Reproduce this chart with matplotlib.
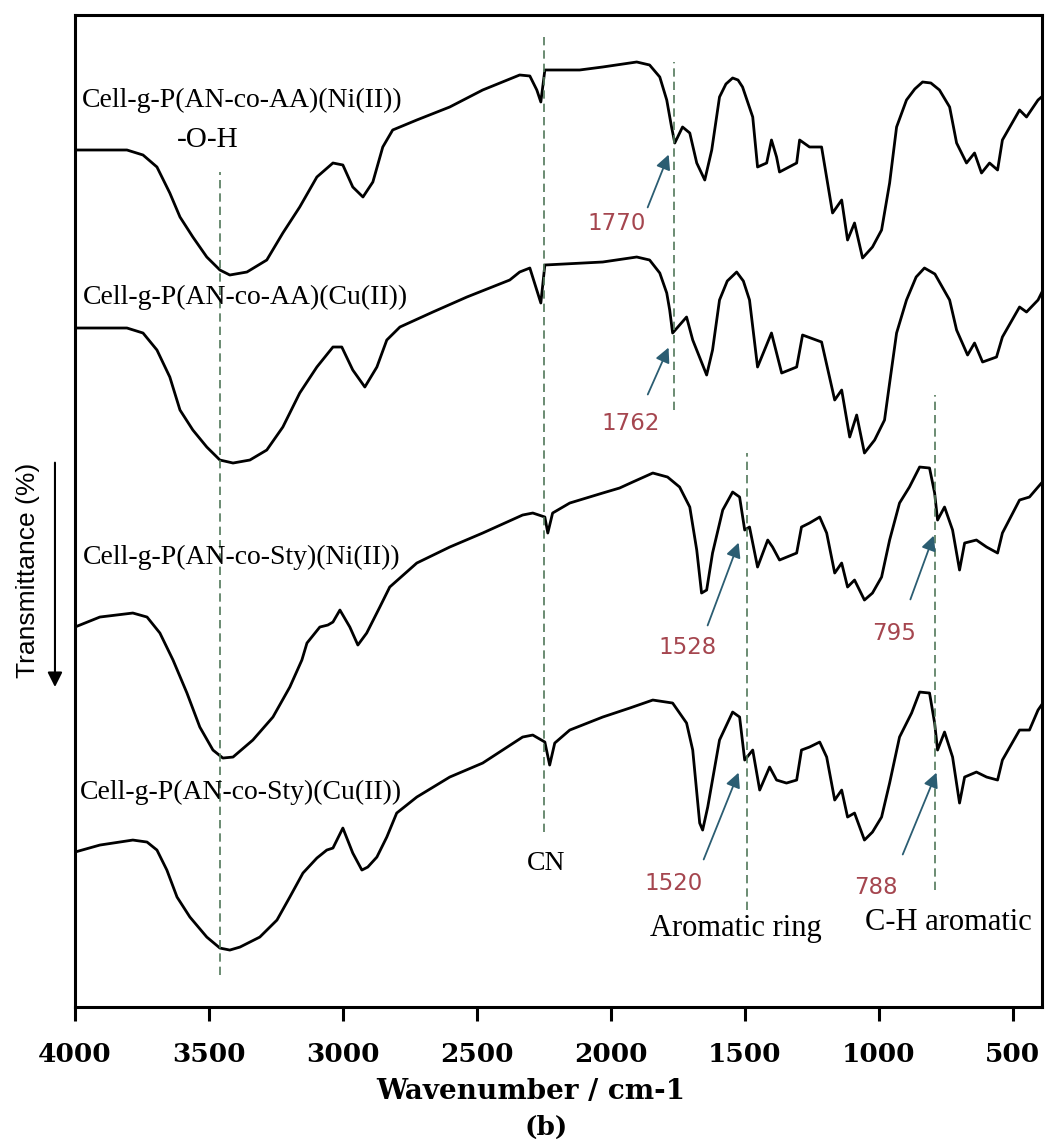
# FTIR spectra of the four grafted cellulose complexes, offset vertically.

import numpy as np
import matplotlib.pyplot as plt

# Cell-g-P(AN-co-AA)(Ni(II))
wn1 = [4000, 3806, 3746, 3694, 3646, 3608, 3560, 3508, 3459, 3422, 3358, 3284, 3224, 3161, 3097, 3037, 3000, 2963, 2925, 2888,
       2851, 2814, 2724, 2601, 2478, 2340, 2302, 2276, 2261, 2246, 2116, 2030, 1903, 1855, 1817, 1791, 1773, 1761, 1732, 1705,
       1679, 1649, 1623, 1594, 1570, 1545, 1525, 1508, 1470, 1452, 1418, 1400, 1381, 1370, 1306, 1295, 1258, 1213, 1172, 1138,
       1116, 1090, 1060, 1023, 989, 959, 933, 896, 865, 836, 805, 773, 735, 709, 672, 642, 616, 586, 556, 538,
       474, 448, 405, 392]
tr1 = [85.7, 85.7, 85.2, 84.0, 81.4, 79.0, 77.0, 75.0, 73.7, 73.2, 73.5, 74.7, 77.4, 80.0, 83.0, 84.4, 84.2, 82.0, 81.0, 82.5,
       86.0, 87.7, 88.7, 90.0, 91.7, 93.2, 93.1, 91.7, 90.5, 93.7, 93.7, 94.0, 94.5, 94.2, 93.0, 90.7, 88.0, 86.4, 88.0, 87.4,
       84.4, 82.7, 85.7, 91.0, 92.3, 92.9, 92.7, 92.0, 89.0, 84.0, 84.4, 86.7, 85.0, 83.5, 84.4, 86.7, 86.0, 86.0, 79.4, 80.7,
       76.7, 78.4, 74.9, 76.0, 77.7, 82.4, 88.0, 90.7, 91.8, 92.5, 92.4, 91.7, 90.0, 86.4, 84.4, 85.4, 83.4, 84.4, 83.7, 86.7,
       89.7, 89.0, 90.7, 91.0]

# Cell-g-P(AN-co-AA)(Cu(II))
wn2 = [4000, 3806, 3746, 3694, 3646, 3608, 3560, 3508, 3459, 3410, 3347, 3284, 3224, 3161, 3097, 3037, 3004, 2963, 2918, 2873,
       2836, 2787, 2664, 2537, 2377, 2340, 2302, 2261, 2246, 2030, 1903, 1855, 1817, 1791, 1780, 1769, 1717, 1694, 1642, 1620,
       1594, 1565, 1530, 1505, 1482, 1452, 1400, 1362, 1306, 1284, 1213, 1164, 1138, 1108, 1082, 1053, 1015, 978, 959, 933,
       896, 860, 829, 790, 735, 709, 668, 642, 612, 560, 538, 474, 448, 405, 392]
tr2 = [67.9, 67.9, 67.4, 65.7, 63.0, 59.7, 57.7, 56.0, 54.7, 54.4, 54.7, 55.7, 58.0, 61.4, 64.0, 66.0, 66.0, 63.7, 62.0, 64.0,
       66.7, 68.0, 69.5, 71.0, 72.7, 73.5, 73.9, 70.4, 74.2, 74.5, 75.0, 74.7, 73.4, 71.4, 69.7, 67.4, 69.0, 66.7, 63.2, 65.7,
       70.7, 72.6, 73.5, 72.6, 70.7, 64.0, 67.4, 63.4, 64.0, 67.2, 66.5, 60.7, 61.7, 57.0, 59.2, 55.4, 56.7, 58.7, 62.4, 67.4,
       70.7, 73.0, 73.9, 73.3, 70.7, 67.7, 65.2, 66.4, 64.5, 65.0, 67.0, 70.0, 69.5, 70.7, 71.4]

# Cell-g-P(AN-co-Sty)(Ni(II))
wn3 = [4000, 3907, 3784, 3731, 3683, 3634, 3582, 3534, 3485, 3448, 3410, 3336, 3261, 3198, 3153, 3134, 3086, 3056, 3037, 3011,
       2974, 2944, 2911, 2862, 2825, 2724, 2601, 2478, 2329, 2291, 2246, 2235, 2217, 2153, 2030, 1967, 1918, 1843, 1788, 1743,
       1705, 1679, 1661, 1642, 1620, 1582, 1545, 1519, 1500, 1482, 1452, 1414, 1396, 1370, 1306, 1288, 1258, 1220, 1194, 1164,
       1138, 1116, 1090, 1053, 1023, 989, 959, 922, 885, 847, 810, 791, 780, 754, 724, 698, 679, 635, 597, 556,
       538, 474, 437, 405, 392]
tr3 = [38.0, 39.0, 39.4, 39.0, 37.4, 34.7, 31.4, 28.0, 25.7, 24.9, 25.0, 26.7, 29.0, 32.0, 34.7, 36.4, 38.0, 38.2, 38.5, 39.7,
       38.0, 36.2, 37.4, 40.0, 42.0, 44.4, 46.0, 47.4, 49.2, 49.4, 49.0, 47.4, 49.4, 50.4, 51.4, 51.9, 52.5, 53.4, 53.0, 52.0,
       50.0, 45.7, 41.4, 41.7, 45.4, 49.7, 51.5, 51.0, 47.7, 48.0, 44.0, 46.7, 46.0, 44.7, 45.4, 48.0, 48.4, 49.0, 47.4, 43.4,
       44.4, 42.0, 42.7, 40.7, 41.4, 43.0, 46.7, 50.4, 52.0, 54.0, 53.9, 51.4, 48.7, 50.0, 47.7, 43.7, 46.4, 46.7, 46.0, 45.4,
       47.4, 50.7, 51.0, 52.0, 52.4]

# Cell-g-P(AN-co-Sty)(Cu(II))
wn4 = [4000, 3907, 3784, 3731, 3694, 3657, 3619, 3571, 3508, 3459, 3422, 3384, 3310, 3246, 3198, 3149, 3097, 3060, 3037, 3000,
       2963, 2929, 2907, 2873, 2836, 2799, 2724, 2601, 2478, 2329, 2291, 2246, 2228, 2209, 2153, 2030, 1929, 1843, 1769, 1717,
       1694, 1668, 1657, 1638, 1594, 1545, 1519, 1500, 1470, 1444, 1407, 1381, 1344, 1306, 1288, 1258, 1220, 1194, 1164, 1138,
       1116, 1090, 1053, 1023, 989, 959, 922, 877, 847, 810, 791, 780, 754, 724, 698, 679, 635, 597, 556, 538,
       474, 437, 405, 392]
tr4 = [15.5, 16.2, 16.7, 16.5, 15.7, 13.7, 11.0, 9.0, 7.0, 5.9, 5.7, 6.0, 7.0, 8.7, 11.0, 13.4, 14.9, 15.7, 15.9, 17.9,
       15.4, 13.7, 14.0, 15.0, 17.0, 19.4, 21.0, 23.0, 24.4, 27.0, 27.2, 26.5, 24.2, 26.4, 27.7, 29.0, 29.9, 30.7, 30.4, 28.4,
       25.7, 18.4, 17.7, 20.0, 26.7, 29.5, 29.0, 24.7, 25.7, 21.7, 24.0, 22.7, 22.4, 22.7, 25.7, 26.0, 26.5, 25.0, 20.7, 21.7,
       19.0, 19.4, 16.7, 17.5, 19.0, 22.4, 27.0, 29.4, 31.5, 31.4, 28.4, 25.7, 27.5, 25.0, 20.4, 23.0, 23.5, 23.0, 22.7, 24.7,
       27.7, 27.7, 29.7, 30.2]

names = ['Cell-g-P(AN-co-AA)(Ni(II))', 'Cell-g-P(AN-co-AA)(Cu(II))',
         'Cell-g-P(AN-co-Sty)(Ni(II))', 'Cell-g-P(AN-co-Sty)(Cu(II))']
xticks = [4000, 3500, 3000, 2500, 2000, 1500, 1000, 500]

serif = 'Liberation Serif'
red = '#a5464f'
teal = '#2b5d72'
dash = '#52785a'

fig = plt.figure(figsize=(10.53, 11.44), dpi=100)
ax = fig.add_axes([0.0712, 0.1197, 0.9184, 0.8672])

for wn, tr in [(wn1, tr1), (wn2, tr2), (wn3, tr3), (wn4, tr4)]:
    ax.plot(wn, tr, color='black', lw=2.0, solid_joinstyle='round')

# band guide lines
ax.vlines(3459, 3.2, 83.5, colors=dash, linestyles=(0, (5, 3)), lw=1.2)
ax.vlines(2250, 17.5, 97.5, colors=dash, linestyles=(0, (5, 3)), lw=1.2)
ax.vlines(1765, 59.7, 94.5, colors=dash, linestyles=(0, (5, 3)), lw=1.2)
ax.vlines(1493, 9.7, 55.4, colors=dash, linestyles=(0, (5, 3)), lw=1.2)
ax.vlines(791, 11.7, 61.2, colors=dash, linestyles=(0, (5, 3)), lw=1.2)

# sample names
ax.text(3974, 90.7, names[0], family=serif, fontsize=20, ha='left', va='center')
ax.text(3970, 71.0, names[1], family=serif, fontsize=20, ha='left', va='center')
ax.text(3970, 45.0, names[2], family=serif, fontsize=20, ha='left', va='center')
ax.text(3981, 21.5, names[3], family=serif, fontsize=20, ha='left', va='center')

# band names
ax.text(3504, 86.7, '-O-H', family=serif, fontsize=21, ha='center', va='center')
ax.text(2243, 14.4, 'CN', family=serif, fontsize=20, ha='center', va='center')
ax.text(1534, 7.9, 'Aromatic ring', family=serif, fontsize=22, ha='center', va='center')
ax.text(739, 8.5, 'C-H aromatic', family=serif, fontsize=22, ha='center', va='center')

# peak markers
peaks = [('1770', (1978, 78.4), (1866, 79.7), (1780, 85.5)),
         ('1762', (1926, 58.4), (1866, 61.0), (1780, 66.2)),
         ('1528', (1713, 36.0), (1642, 37.9), (1519, 46.7)),
         ('795', (941, 37.4), (885, 40.5), (791, 47.4)),
         ('1520', (1765, 12.4), (1657, 14.5), (1519, 23.7)),
         ('788', (1011, 12.0), (914, 15.0), (780, 23.7))]
for lab, pos, tail, head in peaks:
    ax.text(pos[0], pos[1], lab, family='DejaVu Sans', fontsize=16.5, color=red, ha='center', va='center')
    ax.annotate('', xy=head, xytext=tail,
                arrowprops=dict(arrowstyle='-|>', color=teal, lw=1.3, mutation_scale=22))

ax.set_xlim(4000, 390)
ax.set_ylim(0, 99.2)
ax.set_xticks(xticks)
ax.set_yticks([])
ax.tick_params(axis='x', direction='out', length=10, width=2.2, pad=15, labelsize=19)
for lab in ax.get_xticklabels():
    lab.set_family('DejaVu Serif')
    lab.set_fontweight('bold')
for s in ax.spines.values():
    s.set_linewidth(2.2)
ax.set_xlabel('Wavenumber / cm-1', family='DejaVu Serif', fontweight='bold', fontsize=20)
ax.xaxis.set_label_coords(0.4716, -0.071)

fig.text(0.0266, 0.5017, 'Transmittance (%)', family='Liberation Sans', fontsize=19,
         rotation=90, ha='center', va='center')
ax.annotate('', xy=(0.0522, 0.397), xytext=(0.0522, 0.598), xycoords='figure fraction',
            arrowprops=dict(arrowstyle='-|>', color='black', lw=1.5, mutation_scale=22),
            annotation_clip=False)
fig.text(0.519, 0.0149, '(b)', family='DejaVu Serif', fontweight='bold', fontsize=19,
         ha='center', va='center')

plt.savefig('out.png', dpi=100)
